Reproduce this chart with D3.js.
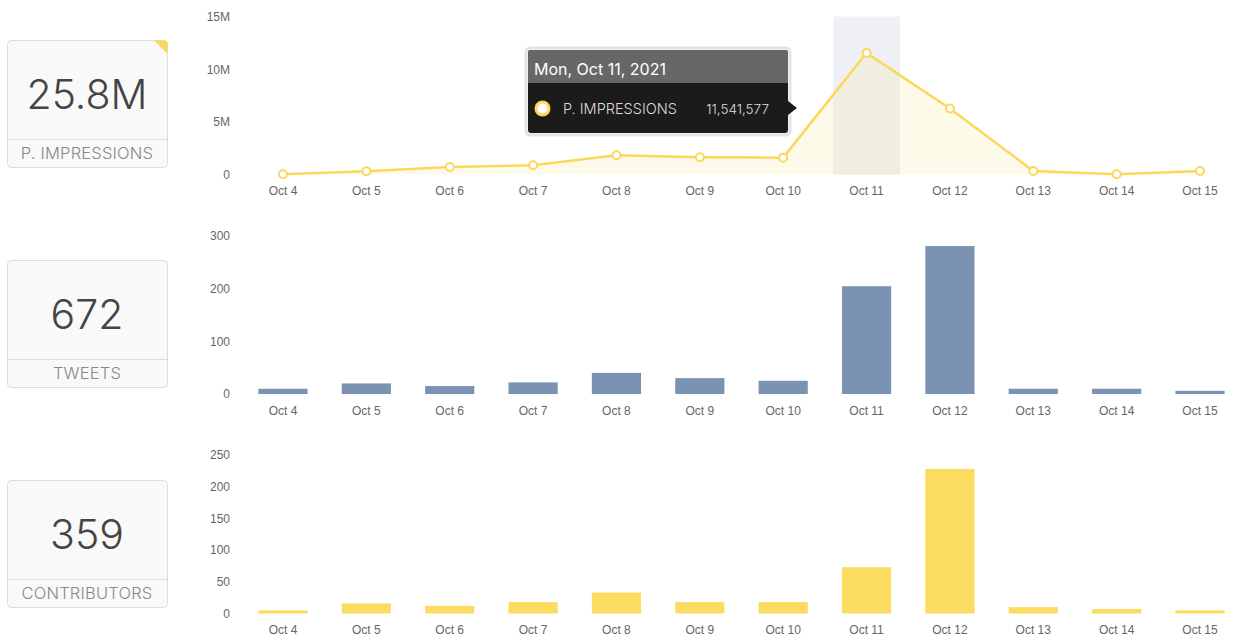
<!DOCTYPE html>
<html>
<head>
<meta charset="utf-8">
<script src="https://cdn.jsdelivr.net/npm/d3@7"></script>
<style>
  html, body { margin: 0; padding: 0; background: #fff; }
  svg { display: block; }
  .tick text { font-family: "Liberation Sans", Arial, sans-serif; font-size: 12px; fill: #666; }
  .box-num { font-family: Inter, "Open Sans", sans-serif; font-weight: 300; fill: #444; }
  .box-lbl { font-family: Inter, "Open Sans", sans-serif; font-weight: 300; fill: #888; }
  .tip { font-family: Inter, "Open Sans", sans-serif; }
</style>
</head>
<body>
<svg id="chart" width="1250" height="644"></svg>
<script>
// jours affichés
const days = ["Oct 4", "Oct 5", "Oct 6", "Oct 7", "Oct 8", "Oct 9", "Oct 10", "Oct 11", "Oct 12", "Oct 13", "Oct 14", "Oct 15"];

// valeurs
const impressions = [30000, 310000, 720000, 880000, 1830000, 1640000, 1600000, 11541577, 6270000, 340000, 20000, 340000];
const tweets = [10, 20, 15, 22, 40, 30, 25, 204, 280, 10, 10, 6];
const contributors = [5, 16, 12, 18, 33, 18, 18, 73, 228, 10, 7, 5];

const impressionTicks = [0, 5000000, 10000000, 15000000];
const tweetTicks = [0, 100, 200, 300];
const contributorTicks = [0, 50, 100, 150, 200, 250];

// cartouches à gauche
const totals = ["25.8M", "672", "359"];
const totalLabels = ["P. IMPRESSIONS", "TWEETS", "CONTRIBUTORS"];

const highlightDay = "Oct 11";
const tipTitle = "Mon, Oct 11, 2021";
const tipValue = "11,541,577";

const svg = d3.select("#chart");

const x = d3.scaleBand().domain(days).range([241.3, 1241.7]).paddingInner(0.41).paddingOuter(0.205);
const xBand = d3.scaleBand().domain(days).range([241.3, 1241.7]).paddingInner(0.2).paddingOuter(0.1);

// Petites fonctions pour les axes
function drawXAxis(yPos) {
    const g = svg.append("g")
        .attr("transform", `translate(0,${yPos})`)
        .call(d3.axisBottom(x).tickSize(0).tickPadding(11));
    g.select(".domain").remove();
}

function drawYAxis(scale, ticks, fmt) {
    const g = svg.append("g")
        .attr("transform", "translate(230,0)")
        .call(d3.axisLeft(scale).tickValues(ticks).tickSize(0).tickPadding(0).tickFormat(fmt));
    g.select(".domain").remove();
}

// ---- Impressions (courbe)
const yImp = d3.scaleLinear().domain([0, 15000000]).range([174.5, 16.5]);

svg.append("rect")
    .attr("x", xBand(highlightDay))
    .attr("y", yImp(15000000))
    .attr("width", xBand.bandwidth())
    .attr("height", yImp(0) - yImp(15000000))
    .attr("fill", "#eef0f5");

const cx = d => x(d) + x.bandwidth() / 2;

svg.append("path")
    .datum(impressions)
    .attr("fill", "#fbe68c")
    .attr("fill-opacity", 0.18)
    .attr("d", d3.area().x((d, i) => cx(days[i])).y0(yImp(0)).y1(d => yImp(d)));

svg.append("path")
    .datum(impressions)
    .attr("fill", "none")
    .attr("stroke", "#fbd85b")
    .attr("stroke-width", 2.5)
    .attr("d", d3.line().x((d, i) => cx(days[i])).y(d => yImp(d)));

svg.selectAll(".pt")
    .data(impressions)
    .enter().append("circle")
    .attr("class", "pt")
    .attr("cx", (d, i) => cx(days[i]))
    .attr("cy", d => yImp(d))
    .attr("r", 4)
    .attr("fill", "#fff")
    .attr("stroke", "#fbd85b")
    .attr("stroke-width", 2);

drawYAxis(yImp, impressionTicks, d => d === 0 ? "0" : (d / 1e6) + "M");
drawXAxis(175.5);

// ---- Tweets (barres)
const yTw = d3.scaleLinear().domain([0, 300]).range([394, 235.5]);

svg.selectAll(".bar-tw")
    .data(tweets)
    .enter().append("rect")
    .attr("class", "bar-tw")
    .attr("x", (d, i) => x(days[i]))
    .attr("y", d => yTw(d))
    .attr("width", x.bandwidth())
    .attr("height", d => yTw(0) - yTw(d))
    .attr("fill", "#7b93b2");

drawYAxis(yTw, tweetTicks, d3.format("d"));
drawXAxis(395.5);

// ---- Contributors (barres)
const yCo = d3.scaleLinear().domain([0, 250]).range([613.5, 455]);

svg.selectAll(".bar-co")
    .data(contributors)
    .enter().append("rect")
    .attr("class", "bar-co")
    .attr("x", (d, i) => x(days[i]))
    .attr("y", d => yCo(d))
    .attr("width", x.bandwidth())
    .attr("height", d => yCo(0) - yCo(d))
    .attr("fill", "#fbdb60");

drawYAxis(yCo, contributorTicks, d3.format("d"));
drawXAxis(614.5);

// ---- Cartouches
const boxTops = [40, 260, 480];
boxTops.forEach((top, i) => {
    const g = svg.append("g").attr("transform", `translate(7,${top})`);
    g.append("rect")
        .attr("x", 0.5).attr("y", 0.5)
        .attr("width", 160).attr("height", 127)
        .attr("rx", 4)
        .attr("fill", "#f9f9f9")
        .attr("stroke", "#dcdcdc");
    g.append("line")
        .attr("x1", 0.5).attr("x2", 160.5)
        .attr("y1", 99.5).attr("y2", 99.5)
        .attr("stroke", "#dcdcdc");
    g.append("text")
        .attr("class", "box-num")
        .attr("x", 80).attr("y", 69)
        .attr("text-anchor", "middle")
        .attr("font-size", 41)
        .text(totals[i]);
    g.append("text")
        .attr("class", "box-lbl")
        .attr("x", 80).attr("y", 119)
        .attr("text-anchor", "middle")
        .attr("font-size", 16.5)
        .attr("letter-spacing", 0.2)
        .text(totalLabels[i]);
    if (i === 0) {
        g.append("path")
            .attr("d", "M147,0.5 L157,0.5 Q160.5,0.5 160.5,4 L160.5,14 Z")
            .attr("fill", "#fbd85b");
    }
});

// ---- Infobulle
const tip = svg.append("g").attr("class", "tip").attr("transform", "translate(528,50)");
tip.append("rect")
    .attr("x", -2).attr("y", -2).attr("width", 264).attr("height", 87)
    .attr("rx", 4).attr("fill", "none").attr("stroke", "#e4e4e4").attr("stroke-width", 3);
tip.append("rect")
    .attr("width", 260).attr("height", 83).attr("rx", 3).attr("fill", "#1b1b1b");
tip.append("path")
    .attr("d", "M3,0 H257 Q260,0 260,3 V33 H0 V3 Q0,0 3,0 Z")
    .attr("fill", "#676767");
tip.append("path")
    .attr("d", "M260,51 L269,58 L260,65 Z")
    .attr("fill", "#1b1b1b");
tip.append("text")
    .attr("x", 6).attr("y", 25)
    .attr("fill", "#fff")
    .attr("font-size", 16)
    .text(tipTitle);
tip.append("circle")
    .attr("cx", 14.5).attr("cy", 58.5).attr("r", 6.5)
    .attr("fill", "#fff").attr("stroke", "#fbd85b").attr("stroke-width", 3);
tip.append("text")
    .attr("x", 35).attr("y", 63.5)
    .attr("fill", "#ddd")
    .attr("font-size", 14.5)
    .attr("font-weight", 300)
    .text(totalLabels[0]);
tip.append("text")
    .attr("x", 241).attr("y", 63.5)
    .attr("text-anchor", "end")
    .attr("fill", "#ddd")
    .attr("font-size", 13.5)
    .attr("font-weight", 300)
    .text(tipValue);
</script>
</body>
</html>
